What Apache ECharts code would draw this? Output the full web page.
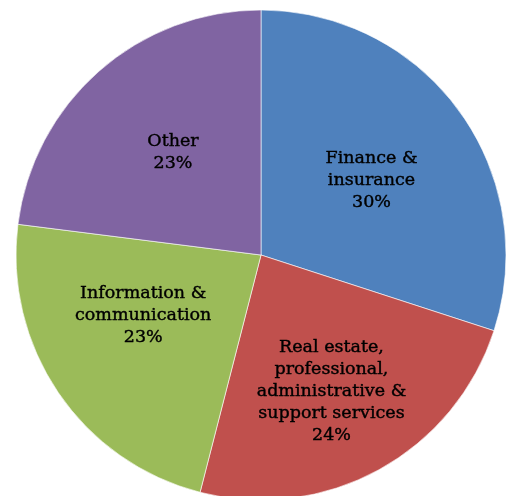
<!DOCTYPE html>
<html>
<head>
<meta charset="utf-8">
<script src="https://cdn.jsdelivr.net/npm/echarts@6/dist/echarts.min.js"></script>
<style>
  html, body { margin: 0; padding: 0; background: #ffffff; }
  #chart { width: 506px; height: 496px; }
</style>
</head>
<body>
<div id="chart"></div>
<script>
// Sector shares (%), clockwise from 12 o'clock
const categories = [
  'Finance &\ninsurance',
  'Real estate,\nprofessional,\nadministrative &\nsupport services',
  'Information &\ncommunication',
  'Other'
];
const shares = [30, 24, 23, 23];
const colors = ['#4F81BD', '#C0504D', '#9BBB59', '#8064A2'];

// Nudges for the inside labels (px)
const labelShift = [[9, -1], [10, 26], [-14, -10], [-5, -8]];

const chart = echarts.init(document.getElementById('chart'), null, { renderer: 'canvas' });

chart.setOption({
  animation: false,
  series: [{
    type: 'pie',
    center: [261, 255],
    radius: [0, 245],
    startAngle: 90,
    clockwise: true,
    data: categories.map((name, i) => ({
      name: name,
      value: shares[i],
      itemStyle: { color: colors[i] }
    })),
    itemStyle: { borderColor: 'rgba(255,255,255,0.6)', borderWidth: 1 },
    label: {
      show: true,
      position: 'inside',
      formatter: p => p.name + '\n' + p.value + '%',
      color: '#000000',
      fontFamily: 'DejaVu Serif',
      fontSize: 17.5,
      lineHeight: 22,
      align: 'center',
      textBorderColor: '#000000',
      textBorderWidth: 0.4
    },
    labelLine: { show: false },
    emphasis: { disabled: true },
    labelLayout: function (params) {
      const s = labelShift[params.dataIndex];
      return { dx: s[0], dy: s[1] };
    }
  }]
});
</script>
</body>
</html>
